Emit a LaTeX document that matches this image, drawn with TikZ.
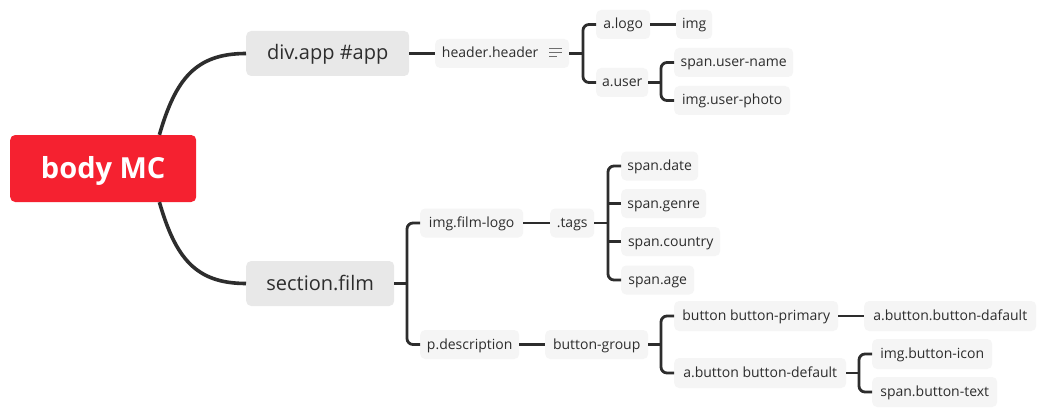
\documentclass[tikz,border=0pt]{standalone}
\usepackage{fontspec}
\setmainfont{Open Sans}
\usetikzlibrary{calc}
\definecolor{rootred}{RGB}{245,33,48}
\definecolor{maingray}{RGB}{232,232,232}
\definecolor{leafgray}{RGB}{245,245,245}
\definecolor{ink}{RGB}{45,45,45}
\definecolor{iconc}{RGB}{110,110,110}
\tikzset{
  rootbox/.style={fill=rootred, rounded corners=5pt, text=white, inner sep=0pt,
    font=\bfseries\fontsize{29}{34}\selectfont, text height=24pt, text depth=5pt, anchor=west},
  mainbox/.style={fill=maingray, rounded corners=5pt, text=ink, inner sep=0pt,
    font=\fontsize{20}{24}\selectfont, text height=17pt, text depth=4pt,
    minimum height=45pt, anchor=west},
  leafbox/.style={fill=leafgray, rounded corners=5pt, text=ink, inner sep=0pt,
    font=\fontsize{14}{17}\selectfont, text height=12pt, text depth=3pt,
    minimum height=29pt, anchor=west},
  mainline/.style={draw=ink, line width=3.6pt},
  brline/.style={draw=ink, line width=2.8pt, rounded corners=6pt},
  iconline/.style={draw=iconc, line width=1pt}
}
\begin{document}
\begin{tikzpicture}[x=1pt,y=-1pt]
\useasboundingbox[fill=white] (0,0) rectangle (1046,417);
% nodes
\node[rootbox, minimum width=186pt, minimum height=67pt] (body) at (10,168.5) {body MC};
\node[mainbox, minimum width=163pt] (app) at (246,53.5) {div.app \#app};
\node[mainbox, minimum width=148pt] (film) at (246,283.5) {section.film};
\node[leafbox, minimum width=134pt] (hdr) at (435,53.5) {header.header\hspace*{24pt}};
\node[leafbox, minimum width=54pt] (alogo) at (596,24.5) {a.logo};
\node[leafbox, minimum width=36pt] (img) at (676,24.5) {img};
\node[leafbox, minimum width=52pt] (auser) at (596,82.5) {a.user};
\node[leafbox, minimum width=119pt] (uname) at (674,62.5) {span.user-name};
\node[leafbox, minimum width=116pt] (uphoto) at (674,100.5) {img.user-photo};
\node[leafbox, minimum width=103pt] (flogo) at (420,223) {img.film-logo};
\node[leafbox, minimum width=44pt] (tags) at (550,223) {.tags};
\node[leafbox, minimum width=77pt] (sdate) at (621,166) {span.date};
\node[leafbox, minimum width=85pt] (sgenre) at (621,203.5) {span.genre};
\node[leafbox, minimum width=99pt] (scountry) at (621,241.5) {span.country};
\node[leafbox, minimum width=73pt] (sage) at (621,280) {span.age};
\node[leafbox, minimum width=99pt] (pdesc) at (420,344.5) {p.description};
\node[leafbox, minimum width=103pt] (bgroup) at (545,344.5) {button-group};
\node[leafbox, minimum width=164pt, minimum height=30pt] (bprim) at (674,316) {button button-primary};
\node[leafbox, minimum width=172pt, minimum height=30pt] (adaf) at (864,316) {a.button.button-dafault};
\node[leafbox, minimum width=172pt, minimum height=30pt] (adef) at (674,373) {a.button button-default};
\node[leafbox, minimum width=120pt, minimum height=30pt] (bicon) at (872,354) {img.button-icon};
\node[leafbox, minimum width=125pt, minimum height=30pt] (btext) at (872,392) {span.button-text};
% notes icon
\draw[iconline] (549,49) -- (562,49);
\draw[iconline] (549,53) -- (562,53);
\draw[iconline] (549,57) -- (557,57);
% junctions
\coordinate (jh) at (583,53.5);
\coordinate (ju) at (661,82.5);
\coordinate (jf) at (407,283.5);
\coordinate (jt) at (608,223);
\coordinate (jb) at (661,344.5);
\coordinate (jd) at (859,373);
\coordinate (bt) at ($(body.north east)+(-37,0)$);
\coordinate (bb) at ($(body.south east)+(-37,0)$);
% main curves
\draw[mainline] (bt) .. controls +(16,-55) and +(-51,0) .. (app.west);
\draw[mainline] (bb) .. controls +(16,55) and +(-51,0) .. (film.west);
% connectors
\draw[brline] (app.east) -- (hdr.west);
\draw[brline] (hdr.east) -- (jh);
\draw[brline] (alogo.west) -| (jh) |- (auser.west);
\draw[brline] (alogo.east) -- (img.west);
\draw[brline] (auser.east) -- (ju);
\draw[brline] (uname.west) -| (ju) |- (uphoto.west);
\draw[brline] (film.east) -- (jf);
\draw[brline] (flogo.west) -| (jf) |- (pdesc.west);
\draw[brline] (flogo.east) -- (tags.west);
\draw[brline] (tags.east) -- (jt);
\draw[brline] (sdate.west) -| (jt) |- (sage.west);
\draw[brline] (sgenre.west) -- (sgenre.west -| jt);
\draw[brline] (scountry.west) -- (scountry.west -| jt);
\draw[brline] (pdesc.east) -- (bgroup.west);
\draw[brline] (bgroup.east) -- (jb);
\draw[brline] (bprim.west) -| (jb) |- (adef.west);
\draw[brline] (bprim.east) -- (adaf.west);
\draw[brline] (adef.east) -- (jd);
\draw[brline] (bicon.west) -| (jd) |- (btext.west);
\end{tikzpicture}
\end{document}
